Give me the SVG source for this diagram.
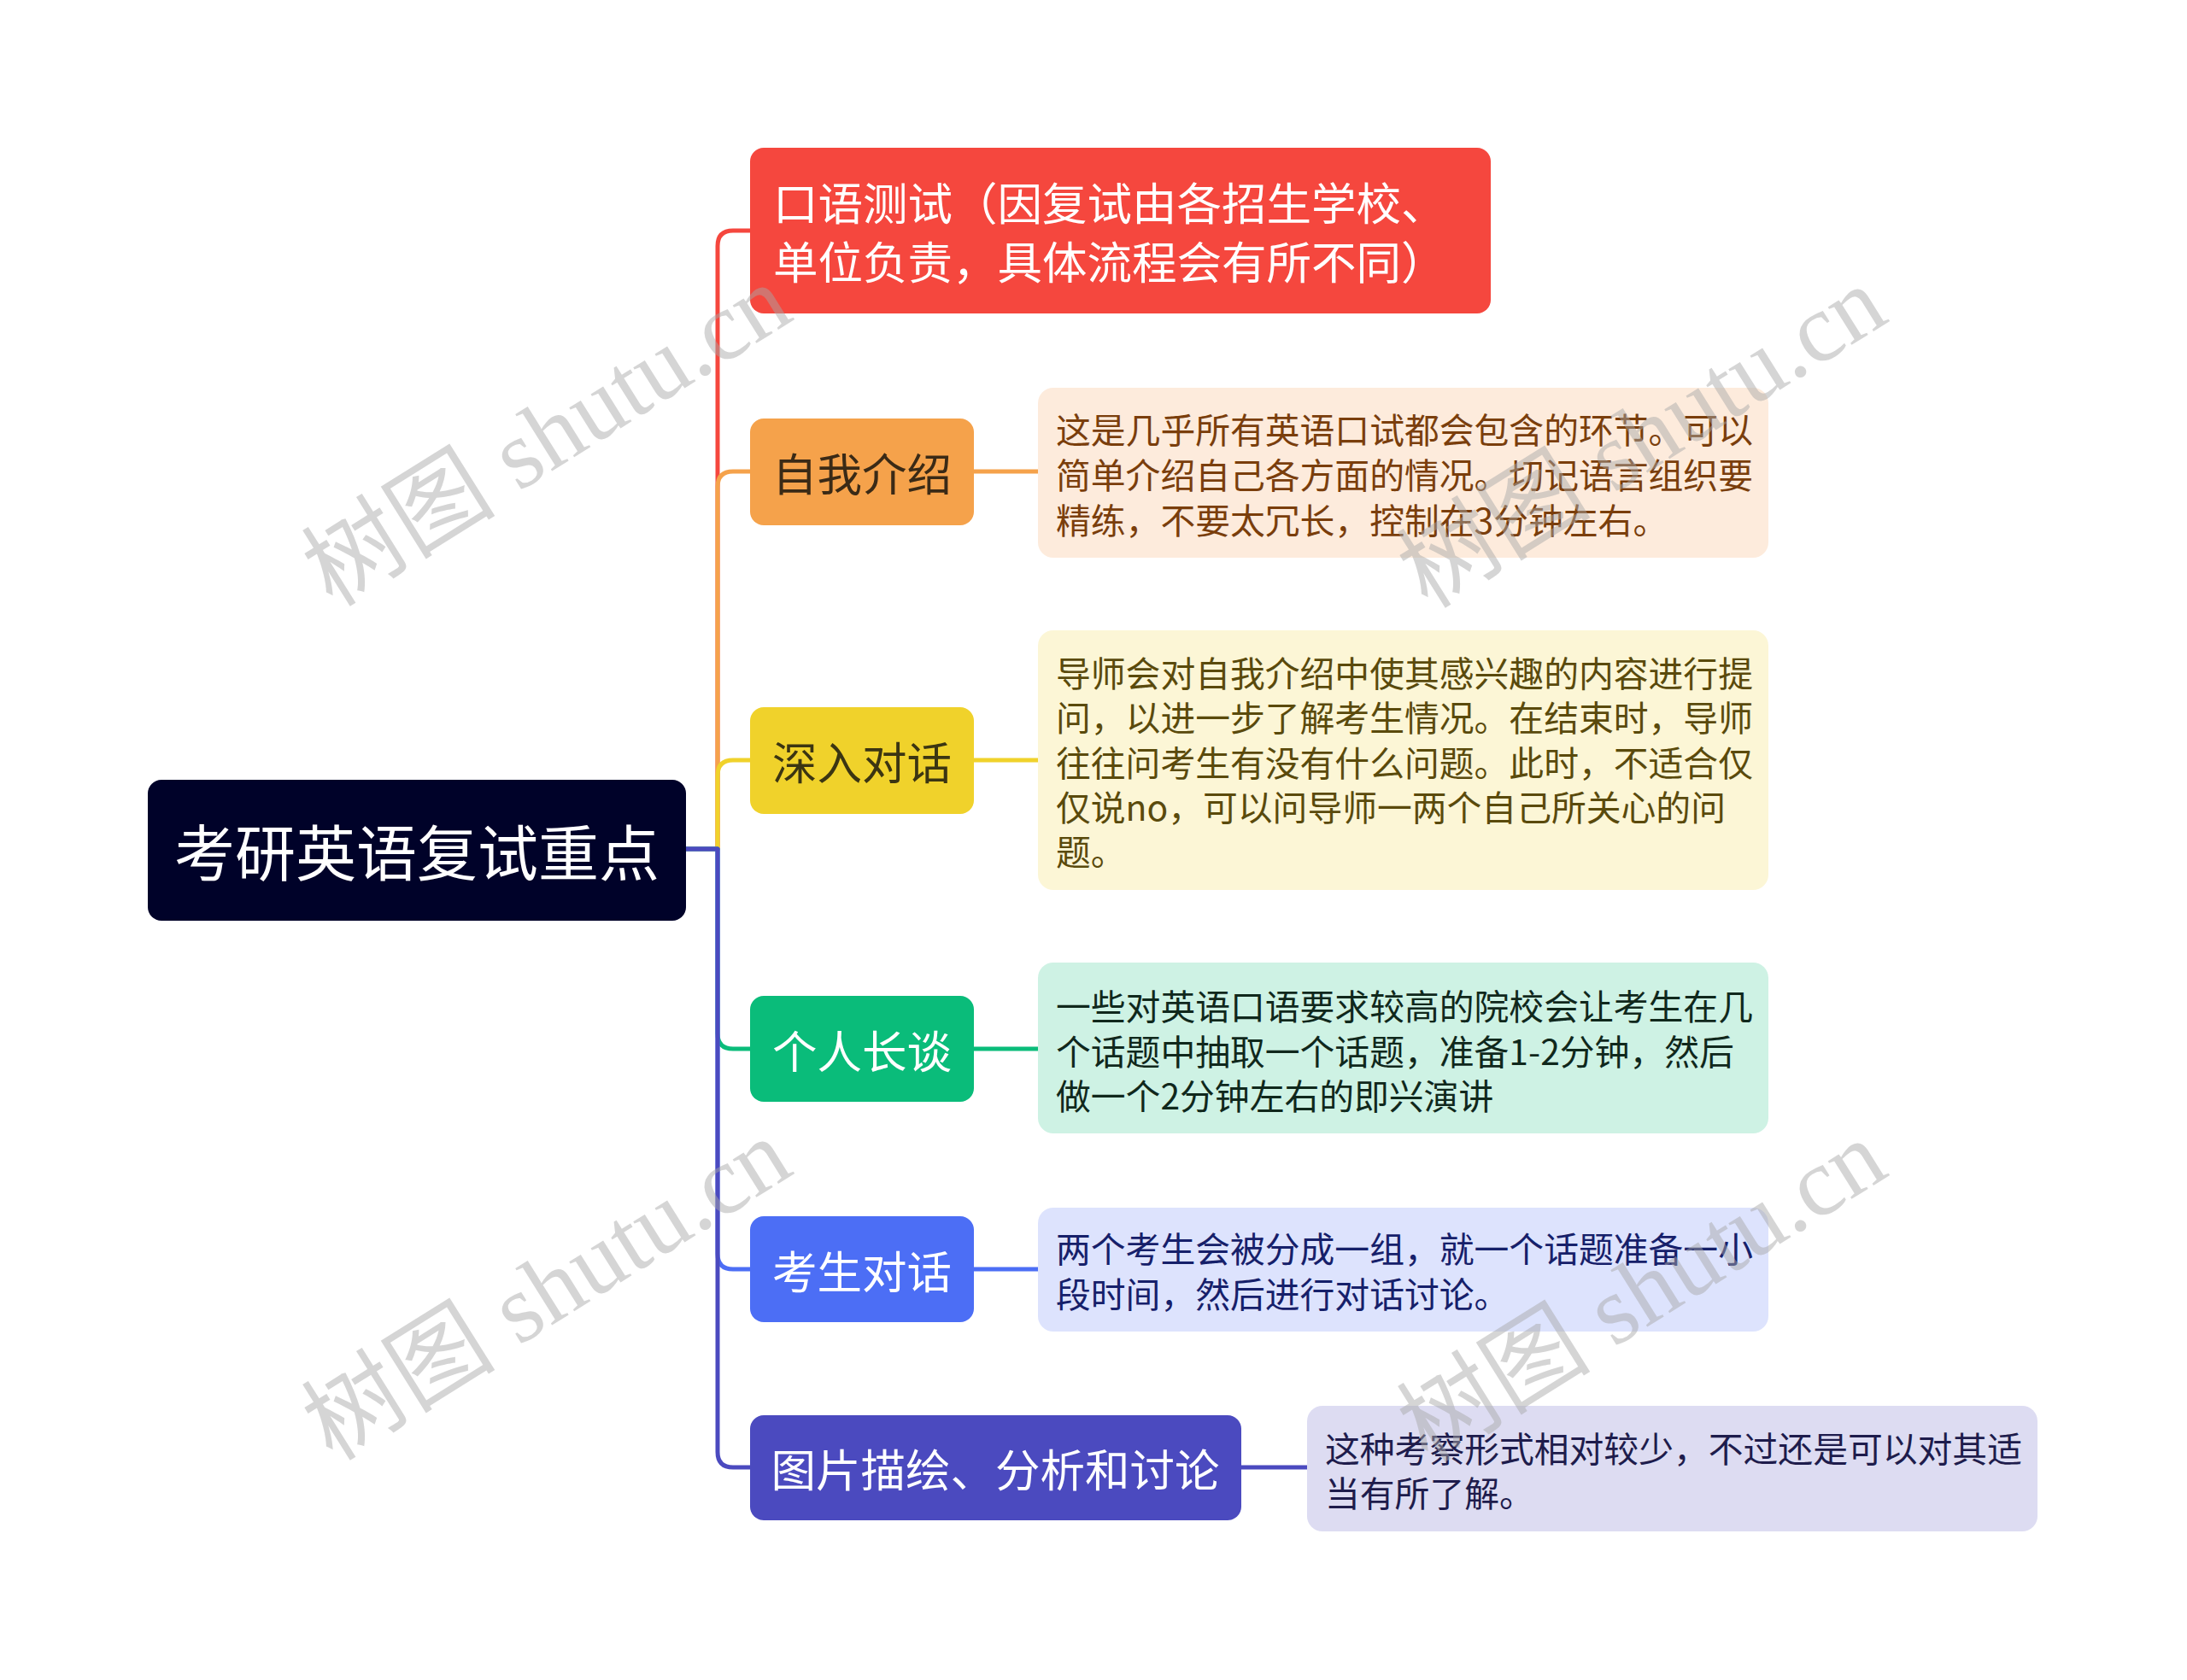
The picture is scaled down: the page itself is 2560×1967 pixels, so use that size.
<svg xmlns="http://www.w3.org/2000/svg" width="2560" height="1967" viewBox="0 0 2560 1967">
<style>
.t{font-family:"Noto Sans CJK SC","Noto Sans",sans-serif;dominant-baseline:central}
.n{font-size:52.5px}
.d{font-size:40.8px}
.c{fill:none;stroke-width:5;stroke-linejoin:round}
.wm{font-family:"Liberation Serif","Noto Sans CJK SC",serif;font-size:114px;fill:#a8a8a8;fill-opacity:0.48;text-anchor:middle;dominant-baseline:central}
</style>
<rect width="2560" height="1967" fill="#ffffff"/>
<g id="connectors">
<path class="c" stroke="#f5473e" d="M803 994H840V288Q840 270 858 270H878"/>
<path class="c" stroke="#f5a24b" d="M803 994H840V570Q840 552 858 552H878"/>
<path class="c" stroke="#f0d22b" d="M803 994H840V908Q840 890 858 890H878"/>
<path class="c" stroke="#0abc7a" d="M803 994H840V1210Q840 1228 858 1228H878"/>
<path class="c" stroke="#4c6ef5" d="M803 994H840V1468Q840 1486 858 1486H878"/>
<path class="c" stroke="#4b4abf" d="M803 994H840V1700Q840 1718 858 1718H878"/>
<path class="c" stroke="#f5a24b" d="M1140 552H1215"/>
<path class="c" stroke="#f0d22b" d="M1140 890H1215"/>
<path class="c" stroke="#0abc7a" d="M1140 1228H1215"/>
<path class="c" stroke="#4c6ef5" d="M1140 1486H1215"/>
<path class="c" stroke="#4b4abf" d="M1453 1718H1530"/>
</g>
<g id="root">
<rect x="173" y="913" width="630" height="165" rx="16" fill="#000229"/>
<text class="t" x="488" y="994" font-size="71" fill="#ffffff" text-anchor="middle">考研英语复试重点</text>
</g>
<g id="n1">
<rect x="878" y="173" width="867" height="194" rx="16" fill="#f5473e"/>
<text class="t n" x="905" y="235" fill="#ffffff">口语测试（因复试由各招生学校、</text>
<text class="t n" x="905" y="304" fill="#ffffff">单位负责，具体流程会有所不同）</text>
</g>
<g id="n2">
<rect x="878" y="490" width="262" height="125" rx="16" fill="#f5a24b"/>
<text class="t n" x="1009" y="552" fill="#3a2a16" text-anchor="middle">自我介绍</text>
</g>
<g id="d2">
<rect x="1215" y="454" width="855" height="199" rx="18" fill="#fdebdc"/>
<text class="t d" x="1236" y="501" fill="#7a3e0c">这是几乎所有英语口试都会包含的环节。可以</text>
<text class="t d" x="1236" y="554" fill="#7a3e0c">简单介绍自己各方面的情况。切记语言组织要</text>
<text class="t d" x="1236" y="607" fill="#7a3e0c">精练，不要太冗长，控制在3分钟左右。</text>
</g>
<g id="n3">
<rect x="878" y="828" width="262" height="125" rx="16" fill="#f0d22b"/>
<text class="t n" x="1009" y="890" fill="#3b3512" text-anchor="middle">深入对话</text>
</g>
<g id="d3">
<rect x="1215" y="738" width="855" height="304" rx="18" fill="#fcf6d6"/>
<text class="t d" x="1236" y="786" fill="#5a4a0c">导师会对自我介绍中使其感兴趣的内容进行提</text>
<text class="t d" x="1236" y="838" fill="#5a4a0c">问，以进一步了解考生情况。在结束时，导师</text>
<text class="t d" x="1236" y="891" fill="#5a4a0c">往往问考生有没有什么问题。此时，不适合仅</text>
<text class="t d" x="1236" y="943" fill="#5a4a0c">仅说no，可以问导师一两个自己所关心的问</text>
<text class="t d" x="1236" y="995" fill="#5a4a0c">题。</text>
</g>
<g id="n4">
<rect x="878" y="1166" width="262" height="124" rx="16" fill="#0abc7a"/>
<text class="t n" x="1009" y="1228" fill="#ffffff" text-anchor="middle">个人长谈</text>
</g>
<g id="d4">
<rect x="1215" y="1127" width="855" height="200" rx="18" fill="#cef2e4"/>
<text class="t d" x="1236" y="1176" fill="#10281c">一些对英语口语要求较高的院校会让考生在几</text>
<text class="t d" x="1236" y="1229" fill="#10281c">个话题中抽取一个话题，准备1-2分钟，然后</text>
<text class="t d" x="1236" y="1281" fill="#10281c">做一个2分钟左右的即兴演讲</text>
</g>
<g id="n5">
<rect x="878" y="1424" width="262" height="124" rx="16" fill="#4c6ef5"/>
<text class="t n" x="1009" y="1486" fill="#ffffff" text-anchor="middle">考生对话</text>
</g>
<g id="d5">
<rect x="1215" y="1414" width="855" height="145" rx="18" fill="#dde3fd"/>
<text class="t d" x="1236" y="1460" fill="#16206a">两个考生会被分成一组，就一个话题准备一小</text>
<text class="t d" x="1236" y="1513" fill="#16206a">段时间，然后进行对话讨论。</text>
</g>
<g id="n6">
<rect x="878" y="1657" width="575" height="123" rx="16" fill="#4b4abf"/>
<text class="t n" x="1165" y="1718" fill="#ffffff" text-anchor="middle">图片描绘、分析和讨论</text>
</g>
<g id="d6">
<rect x="1530" y="1646" width="855" height="147" rx="18" fill="#dddcf2"/>
<text class="t d" x="1551" y="1694" fill="#1e1c4c">这种考察形式相对较少，不过还是可以对其适</text>
<text class="t d" x="1551" y="1746" fill="#1e1c4c">当有所了解。</text>
</g>
<g id="watermarks">
<text class="wm" transform="translate(640 510) rotate(-32)">树图 shutu.cn</text>
<text class="wm" transform="translate(1922 512) rotate(-32)">树图 shutu.cn</text>
<text class="wm" transform="translate(640 1510) rotate(-32)">树图 shutu.cn</text>
<text class="wm" transform="translate(1922 1512) rotate(-32)">树图 shutu.cn</text>
</g>
</svg>
